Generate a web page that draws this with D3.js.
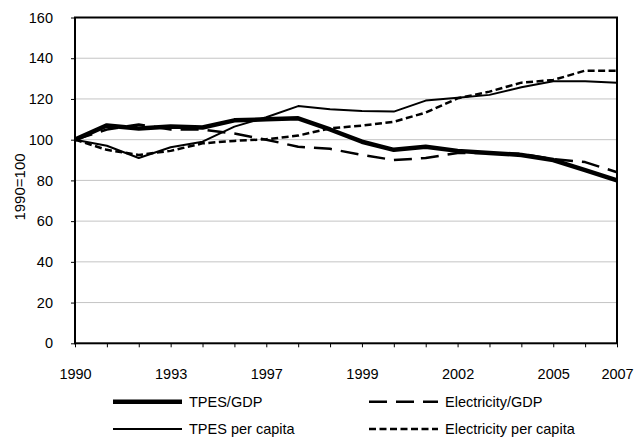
<!DOCTYPE html>
<html>
<head>
<meta charset="utf-8">
<script src="https://cdn.jsdelivr.net/npm/d3@7/dist/d3.min.js"></script>
<style>
  html, body { margin: 0; padding: 0; background: #fff; }
  svg { display: block; font-family: "Liberation Sans", Arial, sans-serif; }
</style>
</head>
<body>
<svg id="chart" width="634" height="437"></svg>
<script>
// ---- data ----
const years = d3.range(1990, 2008);
const xTickYears  = [1990, 1993, 1996, 1999, 2002, 2005, 2007];
const xTickLabels = ["1990", "1993", "1997", "1999", "2002", "2005", "2007"];
const yTicks = [0, 20, 40, 60, 80, 100, 120, 140, 160];

const tpesGdp      = [100, 107, 105.5, 106.5, 106, 109.5, 110, 110.5, 105, 99, 95, 96.5, 94.5, 93.5, 92.5, 90, 85, 80];
const elecGdp      = [100, 105, 107.5, 105, 105, 103, 100, 96.5, 95.5, 92.5, 90, 91, 93.5, 93.5, 93, 90.5, 89, 84];
const tpesCapita   = [100, 97, 91, 96.3, 99, 106.4, 111, 116.5, 115, 114.1, 113.8, 119.2, 120.6, 122, 125.7, 128.7, 128.7, 128];
const elecCapita   = [100, 95, 92.5, 94.5, 98.2, 99.4, 100.2, 102, 105.6, 106.9, 108.8, 113.3, 120.3, 123.6, 128, 129.3, 133.9, 133.9];

const seriesNames = ["TPES/GDP", "Electricity/GDP", "TPES per capita", "Electricity per capita"];

// ---- layout ----
const FONT = "'Liberation Sans', Arial, sans-serif";
const svg = d3.select("#chart");
const L = 75, R = 617, T = 17.5, B = 343.3;

const x = d3.scalePoint().domain(years).range([L, R]).padding(0);
const y = d3.scaleLinear().domain([0, 160]).range([B, T]);

// gridlines
svg.append("g")
  .selectAll("line")
  .data(yTicks.filter(d => d > 0 && d < 160))
  .join("line")
  .attr("x1", L).attr("x2", R)
  .attr("y1", d => y(d)).attr("y2", d => y(d))
  .attr("stroke", "#c4c4c4").attr("stroke-width", 1);

// y axis
const yAxis = svg.append("g")
  .attr("transform", `translate(${L},0)`)
  .call(d3.axisLeft(y).tickValues(yTicks).tickSize(4).tickPadding(18));
yAxis.select(".domain").remove();
yAxis.selectAll(".tick line").attr("stroke", "#000");
yAxis.selectAll(".tick text").attr("font-size", 14.5).attr("fill", "#000")
  .attr("font-family", FONT);

// x axis
const labelMap = new Map(xTickYears.map((yr, i) => [yr, xTickLabels[i]]));
const xAxis = svg.append("g")
  .attr("transform", `translate(0,${B})`)
  .call(d3.axisBottom(x).tickValues(years).tickSize(4).tickPadding(21)
    .tickFormat(d => labelMap.has(d) ? labelMap.get(d) : ""));
xAxis.select(".domain").remove();
xAxis.selectAll(".tick line").attr("stroke", "#000");
xAxis.selectAll(".tick text").attr("font-size", 14.5).attr("fill", "#000")
  .attr("font-family", FONT);

// y title
svg.append("text")
  .attr("transform", `translate(25,187) rotate(-90)`)
  .attr("text-anchor", "middle")
  .attr("font-size", 15)
  .attr("font-family", FONT)
  .text("1990=100");

// series
const styles = [
  { data: elecCapita, w: 2.5, dash: "7,3.5" },
  { data: elecGdp,    w: 2.5, dash: "18,9" },
  { data: tpesCapita, w: 2,   dash: null },
  { data: tpesGdp,    w: 4.5, dash: null }
];
const line = d3.line().x((d, i) => x(years[i])).y(d => y(d));
const plot = svg.append("g");
styles.forEach(s => {
  plot.append("path")
    .attr("d", line(s.data))
    .attr("fill", "none")
    .attr("stroke", "#000")
    .attr("stroke-width", s.w)
    .attr("stroke-linejoin", "round")
    .attr("stroke-dasharray", s.dash);
});

// plot border
svg.append("rect")
  .attr("x", L).attr("y", T)
  .attr("width", R - L).attr("height", B - T)
  .attr("fill", "none").attr("stroke", "#000").attr("stroke-width", 2);

// legend
const legendItems = [
  { name: seriesNames[0], w: 4.5, dash: null,   col: 0, row: 0 },
  { name: seriesNames[1], w: 2.5, dash: "18,9", col: 1, row: 0 },
  { name: seriesNames[2], w: 2,   dash: null,   col: 0, row: 1 },
  { name: seriesNames[3], w: 2.5, dash: "7,3.5",col: 1, row: 1 }
];
const colX = [113, 369], rowY = [401.7, 429];
const lg = svg.append("g");
legendItems.forEach(it => {
  const x0 = colX[it.col], y0 = rowY[it.row];
  lg.append("line")
    .attr("x1", x0).attr("x2", x0 + 69)
    .attr("y1", y0).attr("y2", y0)
    .attr("stroke", "#000").attr("stroke-width", it.w)
    .attr("stroke-dasharray", it.dash);
  lg.append("text")
    .attr("x", x0 + 76).attr("y", y0)
    .attr("dy", "0.36em")
    .attr("font-size", 14.5)
    .attr("font-family", FONT)
    .text(it.name);
});
</script>
</body>
</html>
